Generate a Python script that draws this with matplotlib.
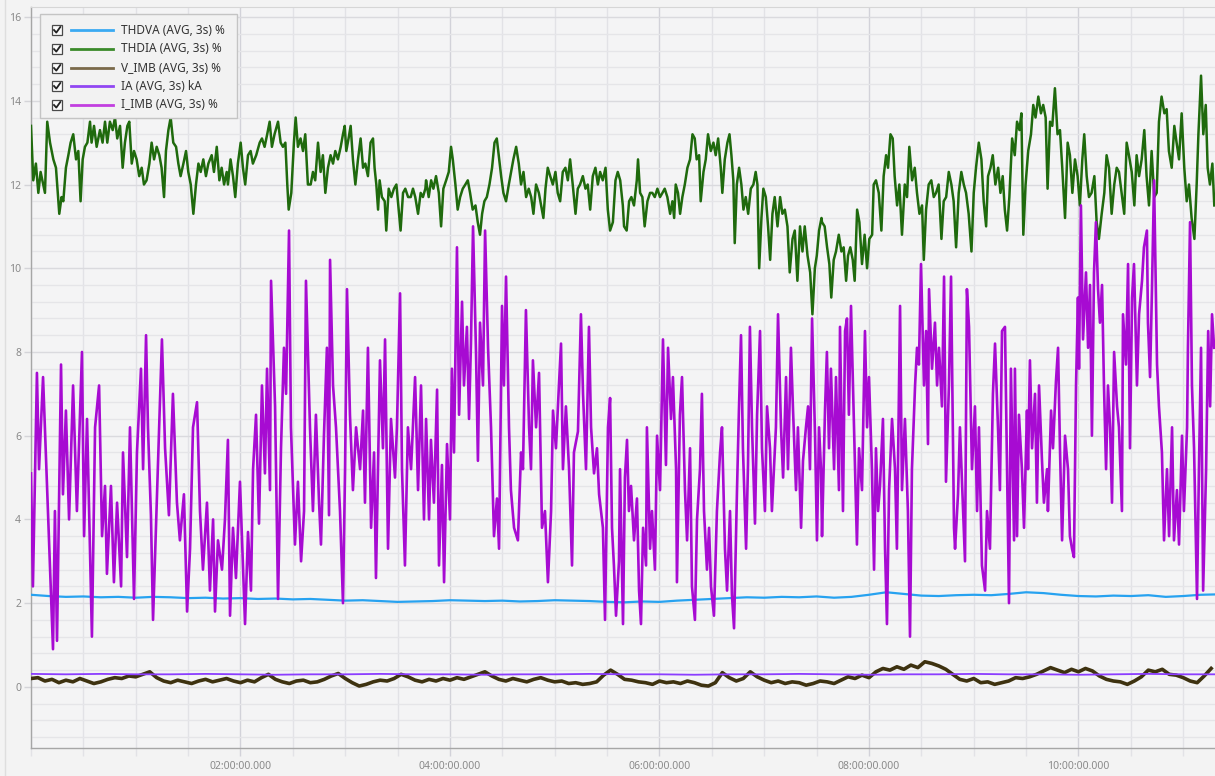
import numpy as np
import matplotlib
matplotlib.use("Agg")
import matplotlib.pyplot as plt
from matplotlib.lines import Line2D
from matplotlib.patches import Rectangle
from matplotlib.ticker import MultipleLocator, FixedLocator, FuncFormatter

plt.rcParams['font.family'] = ['Noto Sans', 'DejaVu Sans']

# ---------------------------------------------------------------- data
series_labels = ["THDVA (AVG, 3s) %", "THDIA (AVG, 3s) %", "V_IMB (AVG, 3s) %",
                 "IA (AVG, 3s) kA", "I_IMB (AVG, 3s) %"]
line_colors = ["#27a2f0", "#1f6a0d", "#3e3210", "#8b3dff", "#a70bd2"]
legend_colors = ["#3aaaf2", "#3a8a2a", "#7a6a4a", "#9147f2", "#c23fe0"]

# THDVA, one value every 10 minutes
thdva_step_min = 10
thdva_vals = [2.20, 2.17, 2.15, 2.16, 2.14, 2.15, 2.13, 2.15, 2.14, 2.12,
              2.13, 2.11, 2.12, 2.10, 2.11, 2.09, 2.10, 2.08, 2.06, 2.07,
              2.05, 2.03, 2.04, 2.05, 2.07, 2.06, 2.05, 2.06, 2.04, 2.05,
              2.07, 2.06, 2.05, 2.03, 2.02, 2.04, 2.03, 2.06, 2.08, 2.10,
              2.12, 2.14, 2.13, 2.15, 2.14, 2.16, 2.13, 2.15, 2.20, 2.26,
              2.22, 2.18, 2.17, 2.19, 2.20, 2.19, 2.22, 2.26, 2.24, 2.20,
              2.17, 2.16, 2.18, 2.17, 2.19, 2.15, 2.17, 2.20, 2.21]

# THDIA, (minute, value) turning points
thdia_pts = [
    (0.0, 13.4), (1.3, 12.1), (2.8, 12.5), (4.2, 11.8), (5.5, 12.3), (7.0, 12.0), (8.0, 11.8), (9.3, 13.5), (10.9, 13.0), (12.8, 12.6),
    (14.3, 12.4), (16.2, 11.3), (17.5, 11.7), (18.5, 11.6), (20.0, 12.4), (21.4, 12.7), (22.7, 13.0), (24.2, 13.2), (25.8, 12.6), (27.1, 12.8),
    (28.4, 11.6), (29.6, 12.6), (30.9, 12.9), (32.3, 13.0), (33.8, 13.5), (34.7, 13.0), (36.1, 13.4), (37.6, 12.9), (39.5, 13.3), (41.0, 13.0),
    (42.4, 13.5), (43.7, 13.0), (45.2, 13.5), (46.8, 13.3), (48.1, 13.6), (49.4, 13.1), (51.0, 13.4), (52.5, 12.4), (53.8, 13.0), (55.2, 13.4),
    (56.3, 13.5), (57.7, 12.5), (59.0, 12.8), (60.5, 12.6), (62.0, 12.2), (63.4, 12.4), (64.7, 12.0), (66.2, 12.1), (67.8, 12.5), (69.1, 13.0),
    (70.5, 12.6), (72.0, 12.9), (73.5, 12.7), (74.8, 12.4), (76.2, 11.7), (77.3, 12.8), (78.7, 13.3), (80.0, 13.6), (81.5, 13.0), (83.1, 12.9),
    (84.4, 12.5), (85.7, 12.2), (87.3, 12.5), (88.8, 12.8), (90.1, 12.3), (91.5, 12.0), (93.0, 11.3), (94.5, 12.0), (95.9, 12.5), (97.2, 12.3),
    (98.7, 12.6), (100.2, 12.2), (101.6, 12.5), (103.5, 12.7), (104.8, 12.3), (106.4, 12.9), (107.9, 12.1), (109.2, 12.4), (110.6, 12.0), (112.1, 12.3),
    (112.8, 12.0), (114.3, 12.6), (115.7, 12.2), (117.0, 11.7), (118.5, 12.5), (120.1, 13.0), (121.4, 12.4), (122.7, 12.0), (124.3, 12.7), (125.8, 12.8),
    (127.1, 12.5), (129.0, 12.7), (131.0, 13.0), (132.3, 13.1), (133.8, 12.9), (135.3, 13.2), (136.7, 13.5), (138.0, 12.9), (139.5, 13.2), (141.5, 13.5),
    (143.0, 13.0), (144.3, 12.9), (145.7, 13.0), (146.8, 12.0), (147.6, 11.4), (149.1, 11.8), (150.6, 13.0), (151.6, 13.6), (152.9, 12.9), (154.4, 13.1),
    (155.8, 12.8), (157.1, 13.2), (158.6, 12.0), (160.2, 12.0), (161.5, 12.3), (162.8, 12.1), (164.4, 13.0), (165.9, 12.3), (167.2, 12.7), (168.6, 11.8),
    (170.1, 12.4), (171.6, 12.7), (173.0, 12.5), (174.3, 12.8), (175.8, 12.6), (177.4, 12.9), (178.7, 13.2), (179.7, 13.4), (180.6, 12.8), (181.9, 13.1),
    (183.1, 13.4), (184.4, 12.6), (185.8, 12.0), (187.3, 12.6), (188.8, 13.1), (190.2, 12.4), (191.5, 12.5), (193.0, 12.2), (194.5, 13.0), (195.9, 13.1),
    (196.8, 12.4), (197.8, 12.0), (198.8, 11.4), (199.7, 12.1), (201.0, 11.7), (202.6, 11.6), (203.5, 10.9), (204.9, 11.9), (206.4, 11.7), (207.9, 11.9),
    (209.3, 12.0), (210.6, 11.4), (211.7, 10.9), (213.1, 11.8), (214.4, 11.9), (216.0, 11.7), (217.5, 11.7), (218.8, 11.9), (220.1, 11.7), (221.7, 11.3),
    (223.2, 11.8), (224.5, 11.7), (225.9, 11.9),
    (226.3, 12.1), (227.8, 11.7), (229.2, 12.1), (230.5, 11.9), (232.0, 12.2), (233.6, 11.8), (234.9, 11.0), (236.2, 11.9), (237.8, 12.1), (239.3, 12.3),
    (240.6, 12.9), (241.6, 12.6), (243.1, 12.0), (244.4, 11.4), (245.8, 11.7), (247.3, 11.9), (248.8, 12.0), (250.2, 12.1), (251.5, 11.8), (253.0, 11.4),
    (254.6, 11.5), (255.9, 11.1), (257.2, 10.8), (258.4, 11.3), (259.7, 11.6), (261.1, 11.7), (262.6, 12.0), (264.1, 12.4), (265.5, 13.0), (266.8, 13.1),
    (267.9, 12.7), (269.3, 12.2), (270.6, 11.8), (272.1, 11.6), (273.7, 12.0), (275.0, 12.3), (276.3, 12.6), (277.9, 12.9), (279.4, 12.5), (280.7, 12.0),
    (282.1, 12.3), (283.6, 11.7), (285.1, 11.9), (286.5, 11.7), (287.8, 11.3), (289.3, 12.0), (290.9, 11.8), (292.2, 11.5), (293.5, 11.2), (294.7, 11.9),
    (296.0, 12.4), (297.4, 12.2), (298.9, 12.0), (300.4, 12.3), (301.7, 11.8), (303.1, 11.6), (304.6, 12.3), (306.1, 12.4), (307.5, 12.1), (308.8, 12.6),
    (310.3, 12.0), (311.9, 11.3), (313.2, 11.9), (314.5, 12.0), (316.1, 12.2), (317.6, 11.9), (318.9, 12.0), (320.3, 11.4), (321.8, 12.2), (323.3, 12.4),
    (324.7, 12.0), (326.0, 12.3), (327.5, 12.1), (329.1, 12.4), (330.4, 11.4), (331.7, 10.9), (333.3, 11.1), (334.8, 12.1), (336.1, 12.3), (337.5, 12.1),
    (339.0, 11.5),
    (339.7, 11.0), (341.2, 10.9), (342.6, 11.6), (343.9, 11.7), (345.4, 11.5), (347.0, 12.1), (347.7, 12.6), (348.9, 11.8), (350.2, 11.7), (351.5, 11.0),
    (353.1, 11.6), (354.6, 11.8), (355.9, 11.8), (357.3, 11.7), (358.8, 11.9), (360.3, 11.7), (361.7, 11.8), (363.0, 11.9), (364.5, 11.7), (366.1, 11.3),
    (367.4, 11.6), (368.4, 11.2), (369.3, 12.0), (370.6, 11.8), (371.8, 11.3), (373.1, 11.7), (374.5, 12.0), (376.0, 12.4), (377.5, 12.6), (378.9, 13.2),
    (380.2, 13.1), (381.3, 12.6), (382.7, 12.7), (383.6, 11.6), (385.2, 12.3), (386.5, 12.6), (387.8, 13.2), (389.4, 12.8), (390.9, 13.0), (392.2, 12.7),
    (393.6, 13.1), (395.1, 12.4), (396.0, 11.8), (397.4, 12.6), (398.9, 13.0), (400.1, 13.2), (401.2, 12.7), (402.3, 12.1), (403.1, 10.6), (404.3, 12.0),
    (405.6, 12.4), (406.9, 12.0), (408.1, 11.4), (409.4, 11.7), (410.8, 11.3), (412.3, 11.9), (413.8, 12.0), (415.1, 12.3), (416.1, 12.0), (417.1, 10.0),
    (418.4, 11.2), (419.5, 11.9), (420.9, 11.7), (422.2, 11.0), (423.4, 10.2), (424.7, 11.3), (426.0, 11.7), (427.6, 11.0), (429.1, 11.7), (430.4, 11.3),
    (431.8, 11.4), (433.3, 11.0), (434.6, 9.9), (436.2, 10.7), (437.5, 10.9), (439.0, 9.7), (440.5, 11.0), (441.9, 10.4), (443.2, 11.0), (444.8, 10.3),
    (446.3, 9.9), (447.6, 8.9), (449.0, 10.0), (450.1, 10.3), (451.4, 10.9), (452.8, 11.2),
    (453.1, 11.1), (454.6, 11.0), (456.0, 10.5), (457.3, 10.1), (458.4, 9.3), (459.8, 10.2), (461.1, 10.4), (462.7, 10.8), (464.2, 10.4), (465.5, 10.5),
    (466.9, 9.7), (468.0, 10.3), (469.3, 10.5), (470.7, 10.2), (471.8, 9.7), (473.2, 11.4), (474.5, 11.1), (476.0, 10.1), (477.5, 10.8), (478.9, 10.0),
    (480.2, 10.7), (481.8, 10.8), (482.7, 12.0), (484.0, 12.1), (485.6, 11.8), (487.1, 10.9), (488.4, 12.2), (489.8, 12.7), (490.9, 12.4), (492.3, 13.2),
    (493.6, 13.1), (494.7, 12.2), (496.1, 11.5), (497.4, 12.0), (498.9, 10.8), (500.5, 12.0), (501.8, 11.7), (503.1, 12.9), (504.7, 12.1), (506.2, 12.4),
    (507.5, 11.8), (508.9, 11.3), (510.4, 11.5), (511.4, 10.2), (512.7, 11.4), (514.2, 12.0), (515.7, 12.1), (517.1, 11.7), (518.4, 11.8), (519.9, 12.0),
    (521.5, 10.7), (522.8, 11.6), (524.2, 11.7), (525.7, 12.3), (527.2, 12.0), (528.5, 11.6), (529.9, 10.5), (531.4, 11.8), (532.9, 12.3), (534.3, 12.0),
    (535.6, 11.8), (537.1, 11.3), (538.7, 10.4), (540.0, 11.8), (541.3, 12.4), (542.9, 13.0), (544.4, 12.6), (545.7, 11.6), (547.1, 11.0), (548.2, 12.2),
    (549.6, 12.4), (550.9, 12.7), (552.4, 12.0), (554.0, 12.4), (555.3, 11.8), (556.6, 12.2), (557.8, 11.4), (559.1, 10.9), (560.4, 11.7), (562.0, 13.1),
    (563.5, 12.7), (564.8, 13.5), (566.2, 13.3), (567.3, 13.7),
    (568.4, 10.8), (569.7, 12.0), (571.2, 12.8), (572.8, 13.2), (574.1, 13.9), (575.4, 13.6), (577.0, 14.1), (578.5, 13.7), (579.8, 13.9), (581.2, 13.6),
    (582.3, 11.9), (583.7, 13.5), (585.0, 13.4), (586.5, 14.3), (588.0, 13.2), (589.4, 13.3), (590.7, 12.4), (592.3, 11.2), (593.8, 13.0), (595.1, 12.7),
    (596.5, 11.8), (598.0, 12.6), (599.5, 12.2), (600.8, 11.5), (602.2, 12.6), (603.3, 13.2), (604.7, 12.2), (606.0, 11.7), (607.5, 11.8), (609.1, 12.2),
    (610.4, 11.1), (611.7, 10.7), (613.3, 11.3), (614.8, 11.8), (616.1, 12.7), (617.5, 12.4), (619.0, 11.3), (620.5, 12.0), (621.9, 12.4), (623.2, 12.3),
    (624.7, 11.8), (626.2, 11.3), (627.6, 13.0), (628.9, 12.7), (630.5, 12.3), (632.0, 11.5), (633.3, 12.7), (634.7, 12.2), (636.2, 12.6), (637.7, 13.3),
    (639.0, 12.2), (640.4, 11.5), (641.9, 12.8), (643.4, 11.7), (644.8, 11.8), (646.1, 13.5), (647.6, 14.1), (649.2, 13.7), (650.5, 13.8), (651.8, 12.8),
    (653.4, 12.4), (654.9, 13.4), (656.2, 13.0), (657.6, 12.6), (659.1, 13.7), (660.6, 12.4), (662.0, 11.6), (663.3, 12.0), (664.8, 11.2), (666.4, 10.7),
    (667.7, 12.0), (668.7, 13.2), (670.2, 14.6), (671.5, 13.2), (672.9, 13.9), (674.0, 12.4), (675.3, 12.0), (676.7, 12.5), (677.8, 11.5),
]

# V_IMB, one value every 4 minutes
v_imb_step_min = 4
v_imb_vals = [0.20, 0.22, 0.14, 0.18, 0.10, 0.16, 0.12, 0.20, 0.14, 0.08, 0.12, 0.18, 0.22, 0.20, 0.26,
              0.24, 0.30, 0.36, 0.22, 0.14, 0.10, 0.16, 0.12, 0.08, 0.14, 0.18, 0.12, 0.16, 0.20,
              0.14, 0.10, 0.16, 0.12, 0.22, 0.30, 0.18, 0.12, 0.08, 0.14, 0.16, 0.10, 0.12, 0.18,
              0.26, 0.32, 0.20, 0.10, 0.02, 0.06, 0.12, 0.16, 0.14, 0.20, 0.30, 0.24, 0.16, 0.12,
              0.18, 0.14, 0.20, 0.16, 0.22, 0.18, 0.24, 0.30, 0.36, 0.26, 0.18, 0.14, 0.20, 0.16, 0.12,
              0.18, 0.22, 0.16, 0.12, 0.14, 0.08, 0.10, 0.06, 0.08, 0.12, 0.28, 0.40, 0.30, 0.18,
              0.16, 0.12, 0.10, 0.06, 0.14, 0.10, 0.12, 0.08, 0.14, 0.10, 0.04, 0.02, 0.10, 0.34,
              0.22, 0.14, 0.20, 0.36, 0.24, 0.16, 0.10, 0.14, 0.08, 0.12, 0.10, 0.04, 0.08, 0.14,
              0.12, 0.08, 0.16, 0.24, 0.20, 0.28, 0.22, 0.36, 0.44, 0.40, 0.48, 0.42, 0.52, 0.46,
              0.60, 0.56, 0.50, 0.42, 0.30, 0.18, 0.14, 0.20, 0.10, 0.12, 0.06, 0.10, 0.14, 0.22,
              0.20, 0.24, 0.30, 0.38, 0.46, 0.40, 0.34, 0.42, 0.36, 0.44, 0.38, 0.26, 0.18, 0.14,
              0.12, 0.06, 0.14, 0.24, 0.40, 0.36, 0.42, 0.30, 0.28, 0.22, 0.14, 0.10, 0.26, 0.44]

# IA, one value every 20 minutes
ia_step_min = 20
ia_vals = [0.31, 0.30, 0.31, 0.30, 0.30, 0.31, 0.30, 0.29, 0.30, 0.30, 0.31, 0.30,
           0.30, 0.29, 0.30, 0.30, 0.31, 0.30, 0.30, 0.29, 0.30, 0.30, 0.31, 0.30,
           0.29, 0.30, 0.30, 0.31, 0.30, 0.30, 0.29, 0.30, 0.31, 0.30, 0.30]

# I_IMB, (minute, value) turning points
i_imb_pts = [
    (0.0, 5.1), (1.1, 2.4), (3.4, 7.5), (4.6, 5.2), (6.9, 7.4), (9.7, 4.2), (12.6, 0.9), (13.7, 4.2), (14.9, 1.1), (17.2, 7.7),
    (18.3, 4.6), (20.0, 6.6), (21.8, 4.0), (24.1, 7.2), (26.3, 4.2), (29.2, 8.0), (30.4, 3.6), (32.1, 6.4), (34.9, 1.2), (36.7, 6.2),
    (39.0, 7.2), (40.7, 3.6), (42.4, 4.8), (43.5, 2.7), (45.8, 4.8), (47.5, 2.5), (49.3, 4.4), (51.6, 2.4), (52.7, 5.6), (55.0, 3.1),
    (56.7, 6.2), (59.0, 2.1), (60.7, 5.6), (63.0, 7.6), (64.2, 5.2), (65.9, 8.4), (67.0, 6.2), (68.7, 4.1), (69.9, 1.6), (72.2, 4.6),
    (75.0, 8.3), (76.8, 5.7), (79.0, 4.1), (81.3, 7.0), (83.6, 4.4), (85.3, 3.5), (87.6, 4.6), (89.4, 1.8), (91.1, 3.3), (92.8, 6.2),
    (95.1, 6.8), (96.8, 4.2), (98.5, 2.8), (100.8, 4.4), (102.5, 2.3), (104.3, 4.0), (105.4, 1.8), (107.1, 3.5), (109.4, 2.8), (111.1, 4.0),
    (112.8, 5.9), (114.0, 1.7), (115.7, 3.8), (117.4, 2.6), (119.7, 4.9), (122.6, 1.5), (124.3, 3.7), (126.0, 2.3), (127.2, 5.2), (128.9, 6.5),
    (130.6, 3.9), (132.3, 7.2), (134.0, 5.1), (135.2, 7.6), (136.9, 4.7), (137.5, 9.7), (139.8, 6.7), (141.5, 2.1), (143.2, 5.7), (144.9, 8.1),
    (146.1, 7.0), (147.8, 10.9), (148.9, 6.2), (151.2, 3.4), (152.9, 4.9), (154.7, 3.0), (156.4, 4.2), (157.5, 9.7), (159.8, 6.2), (161.5, 4.2),
    (163.2, 6.5), (165.0, 4.4), (166.1, 3.4), (167.8, 6.0), (169.5, 8.1), (170.7, 4.1), (171.3, 10.2), (173.0, 7.2), (174.7, 6.2), (177.0, 4.2),
    (178.7, 2.0), (179.9, 5.2), (181.0, 9.5), (182.7, 6.5), (184.4, 4.7), (186.2, 6.2), (188.5, 5.2), (190.2, 6.6), (191.3, 4.4), (193.0, 8.1),
    (194.8, 3.8), (196.5, 5.6), (197.6, 2.6), (199.9, 7.8), (201.6, 5.7), (202.8, 8.3), (204.5, 3.3), (206.2, 6.4), (208.5, 5.0), (209.6, 6.2),
    (211.4, 9.4), (212.5, 5.2), (214.2, 2.9), (215.9, 6.2), (217.7, 5.2), (220.0, 7.4), (221.7, 4.7), (223.4, 7.2), (225.1, 4.0),
    (226.3, 6.4), (228.0, 4.0), (229.1, 5.9), (230.8, 4.4), (232.6, 7.1), (233.7, 2.9), (235.4, 5.3), (236.6, 2.5), (238.3, 5.8), (240.0, 4.0),
    (241.1, 7.6), (242.3, 5.6), (244.0, 10.5), (245.2, 6.5), (246.9, 9.2), (248.0, 7.2), (249.7, 8.6), (250.9, 6.4), (252.0, 8.2), (253.2, 11.0),
    (254.9, 8.0), (256.0, 5.4), (257.2, 8.7), (258.9, 7.2), (260.1, 10.9), (261.8, 8.1), (263.5, 6.2), (265.2, 3.6), (266.9, 4.5), (268.1, 3.3),
    (269.8, 9.1), (270.9, 7.2), (272.1, 9.8), (273.8, 6.2), (274.9, 4.7), (276.7, 3.8), (278.9, 3.5), (280.7, 5.6), (281.8, 5.2), (283.5, 9.0),
    (285.3, 6.2), (286.4, 5.2), (287.5, 7.8), (289.3, 6.2), (291.0, 7.5), (292.7, 3.8), (294.4, 4.2), (296.1, 2.5), (297.9, 4.2), (299.0, 6.6),
    (300.7, 5.7), (302.4, 7.2), (303.6, 8.2), (304.7, 5.2), (306.4, 6.7), (308.2, 5.2), (309.9, 2.9), (311.0, 5.6), (313.3, 6.1), (315.0, 8.9),
    (316.2, 7.0), (317.9, 5.2), (319.6, 8.6), (320.8, 6.2), (322.5, 5.1), (324.2, 5.7), (325.4, 4.6), (327.6, 3.8), (328.8, 1.6), (330.5, 6.2),
    (331.7, 6.9), (332.8, 3.8), (333.9, 2.9), (335.1, 1.7), (336.8, 3.0), (337.4, 5.2), (339.1, 1.5), (340.2, 5.0),
    (341.4, 5.9), (342.5, 4.2), (343.7, 4.8), (345.4, 3.5), (347.1, 4.5), (348.3, 2.3), (349.4, 1.5), (350.6, 3.8), (352.3, 2.9), (352.8, 6.2),
    (354.6, 3.3), (355.7, 4.2), (357.4, 2.8), (358.6, 6.0), (360.3, 4.7), (362.0, 8.3), (363.7, 5.3), (364.9, 8.1), (366.6, 6.4), (367.7, 7.4),
    (369.5, 5.2), (370.0, 2.5), (371.7, 6.5), (372.9, 7.4), (374.6, 4.7), (375.8, 3.5), (377.5, 5.7), (378.6, 2.4), (380.3, 1.6), (381.5, 4.0),
    (383.2, 5.2), (384.3, 7.0), (385.5, 4.2), (387.2, 2.8), (388.4, 3.8), (389.5, 2.4), (391.2, 1.7), (392.9, 4.2), (394.7, 5.6), (395.8, 6.2),
    (397.5, 3.3), (398.7, 2.3), (400.4, 4.2), (401.5, 2.2), (402.7, 1.4), (404.4, 4.7), (405.5, 6.6), (406.7, 8.4), (407.8, 5.7), (409.6, 3.3),
    (410.7, 5.3), (411.8, 8.6), (413.0, 6.2), (414.7, 3.9), (415.9, 6.5), (417.6, 8.5), (418.7, 5.7), (420.4, 4.2), (421.6, 6.7), (423.3, 5.7),
    (424.4, 4.2), (426.7, 6.2), (427.9, 8.9), (429.6, 6.2), (430.8, 5.0), (432.5, 7.4), (433.6, 5.2), (435.3, 8.1), (436.5, 6.6), (438.2, 4.7),
    (439.3, 6.2), (441.1, 3.8), (442.2, 5.4), (443.9, 6.2), (445.1, 6.7), (446.2, 5.2), (447.4, 8.8), (449.1, 6.0), (450.2, 3.5), (451.4, 6.2),
    (452.5, 5.2),
    (453.1, 3.6), (454.8, 6.6), (455.9, 8.0), (457.1, 5.7), (458.2, 7.6), (460.0, 5.2), (461.1, 7.4), (462.8, 4.7), (463.4, 8.6), (465.1, 4.2),
    (466.3, 8.5), (467.4, 8.8), (468.5, 6.5), (469.7, 9.1), (471.4, 6.2), (473.1, 3.4), (474.3, 5.7), (476.0, 4.7), (477.7, 8.5), (478.9, 6.2),
    (480.0, 7.4), (481.7, 5.2), (482.9, 2.8), (484.0, 5.7), (485.2, 4.2), (486.3, 4.8), (488.0, 6.4), (489.2, 3.3), (490.3, 1.5), (491.5, 4.7),
    (493.2, 6.4), (494.9, 5.2), (496.0, 3.3), (497.8, 9.1), (498.9, 4.7), (500.6, 6.4), (502.3, 4.2), (503.5, 1.2), (504.6, 5.2), (506.4, 7.2),
    (507.5, 8.1), (508.6, 7.7), (509.8, 10.1), (511.5, 7.2), (512.7, 8.5), (513.8, 5.8), (514.4, 9.5), (516.1, 7.6), (517.8, 8.7), (519.0, 7.2),
    (520.1, 8.1), (521.8, 6.7), (523.0, 9.8), (524.1, 4.9), (525.8, 7.2), (527.0, 9.8), (528.7, 3.8), (529.3, 3.3), (531.0, 4.6), (532.1, 6.2),
    (533.9, 4.2), (535.0, 3.0), (536.1, 9.5), (537.3, 8.6), (539.0, 5.2), (540.7, 6.7), (541.9, 4.2), (543.0, 6.2), (544.7, 2.9), (546.5, 2.3),
    (547.6, 4.2), (549.3, 3.3), (551.0, 7.0), (552.2, 8.2), (553.9, 6.2), (555.0, 4.7), (556.2, 8.5), (557.9, 8.6), (559.1, 5.2), (560.2, 2.0),
    (561.3, 7.6), (563.1, 3.5),
    (563.6, 7.6), (564.8, 3.6), (565.9, 6.5), (567.6, 5.2), (568.8, 3.8), (570.5, 6.6), (571.1, 5.2), (572.2, 7.8), (573.4, 5.7), (575.1, 7.0),
    (576.2, 4.4), (577.4, 7.2), (579.1, 5.4), (580.2, 4.4), (582.0, 5.2), (582.5, 4.2), (584.3, 6.6), (585.4, 5.7), (587.1, 7.3), (588.3, 8.1),
    (589.4, 5.7), (590.6, 3.5), (592.3, 6.0), (594.0, 5.2), (595.1, 3.6), (596.3, 3.3), (597.4, 3.1), (598.6, 7.2), (599.7, 9.3), (600.3, 7.6),
    (601.4, 11.5), (602.6, 8.3), (604.3, 9.9), (605.5, 8.1), (606.6, 9.6), (607.7, 6.0), (608.9, 9.9), (610.0, 11.1), (611.2, 9.5), (612.3, 8.7),
    (613.5, 9.6), (614.6, 7.2), (615.8, 5.2), (616.9, 7.2), (618.1, 6.2), (619.2, 4.4), (620.4, 8.0), (622.1, 6.7), (623.2, 6.2), (624.9, 4.2),
    (625.5, 8.9), (627.2, 7.7), (628.4, 10.1), (629.5, 5.7), (630.7, 9.3), (631.8, 10.1), (633.5, 7.2), (634.7, 8.9), (636.4, 9.7), (637.5, 10.5),
    (639.2, 10.9), (639.8, 8.7), (641.0, 7.4), (642.1, 9.5), (643.3, 12.1), (645.0, 7.7), (646.1, 6.7), (647.8, 5.6), (649.0, 3.5), (650.7, 5.2),
    (651.9, 3.6), (653.6, 6.2), (654.7, 3.5), (656.4, 4.7), (657.6, 3.4), (659.3, 6.0), (660.4, 4.2), (662.2, 6.2), (662.7, 8.1), (663.9, 11.1),
    (665.0, 7.2), (666.2, 5.7), (667.9, 2.1), (669.0, 5.2), (670.2, 8.1), (671.4, 2.3), (673.1, 5.2), (674.3, 8.5), (675.4, 6.7), (676.5, 8.9),
    (677.7, 8.1),
]

major_hours = [2, 4, 6, 8, 10]
x_range_min = (0, 678.2)
y_range = (-1.46, 16.24)

# ---------------------------------------------------------------- figure
W, H = 1215, 776
fig = plt.figure(figsize=(W / 100, H / 100), dpi=100, facecolor="#f3f3f3")


def fx(px):
    return px / W


def fy(py):
    return 1 - py / H


ax = fig.add_axes([fx(31), fy(748), fx(1215) - fx(31), fy(7) - fy(748)])
ax.set_facecolor("#f4f4f5")
ax.set_xlim(*x_range_min)
ax.set_ylim(*y_range)

# grid and ticks
ax.xaxis.set_major_locator(FixedLocator([h * 60 for h in major_hours]))
ax.xaxis.set_minor_locator(MultipleLocator(30))
ax.yaxis.set_major_locator(MultipleLocator(2))
ax.yaxis.set_minor_locator(MultipleLocator(0.4))
ax.xaxis.set_major_formatter(
    FuncFormatter(lambda m, _: f"{int(m // 60):02d}:{int(m % 60):02d}:00.000"))
ax.yaxis.set_major_formatter(FuncFormatter(lambda v, _: f"{v:g}"))

ax.grid(which="major", axis="x", color="#d2d2d9", lw=1.0)
ax.grid(which="minor", axis="x", color="#e2e2e6", lw=1.0)
ax.grid(which="major", axis="y", color="#dadade", lw=1.0)
ax.grid(which="minor", axis="y", color="#e5e5e8", lw=1.0)
ax.set_axisbelow(True)

ax.tick_params(axis="x", which="major", direction="out", length=5.5, width=1,
               color="#d2d2d9", labelsize=7.5, labelcolor="#8a8a8a", pad=4)
ax.tick_params(axis="x", which="minor", direction="out", length=5.5, width=1,
               color="#e2e2e6")
ax.tick_params(axis="y", which="major", direction="out", length=5, width=1,
               color="#d4d4d8", labelsize=7.5, labelcolor="#8a8a8a", pad=2)
ax.tick_params(axis="y", which="minor", length=0)

for side in ("left", "bottom"):
    ax.spines[side].set_color("#a6a6a6")
    ax.spines[side].set_linewidth(1.0)
ax.spines["top"].set_color("#d6d6d6")
ax.spines["right"].set_visible(False)

# ---------------------------------------------------------------- series
thdva_t = np.arange(len(thdva_vals)) * thdva_step_min
v_imb_t = np.arange(len(v_imb_vals)) * v_imb_step_min
ia_t = np.arange(len(ia_vals)) * ia_step_min
thdia_t, thdia_v = zip(*thdia_pts)
i_imb_t, i_imb_v = zip(*i_imb_pts)

ax.plot(thdva_t, thdva_vals, color=line_colors[0], lw=1.6, zorder=3)
ax.plot(thdia_t, thdia_v, color=line_colors[1], lw=1.8, zorder=3)
ax.plot(v_imb_t, v_imb_vals, color=line_colors[2], lw=2.6, zorder=4)
ax.plot(ia_t, ia_vals, color=line_colors[3], lw=1.3, zorder=5)
ax.plot(i_imb_t, i_imb_v, color=line_colors[4], lw=1.9, zorder=6)

# thin outer frame line on the left
fig.add_artist(Line2D([fx(5), fx(5)], [0, 1], color="#dedede", lw=1,
                      transform=fig.transFigure))

# ---------------------------------------------------------------- legend
tf = fig.transFigure
fig.add_artist(Rectangle((fx(40), fy(118)), fx(237) - fx(40), (118 - 14) / H,
                         transform=tf, facecolor="#f2f2f2", edgecolor="#c4c4c4",
                         lw=1, zorder=10))
row_y = [30, 49, 68, 86, 105]
for label, col, ry in zip(series_labels, legend_colors, row_y):
    fig.add_artist(Rectangle((fx(52), fy(ry + 5)), 10 / W, 10 / H, transform=tf,
                             facecolor="#fbfbfb", edgecolor="#4a4a4a", lw=0.9,
                             zorder=11))
    fig.add_artist(Line2D([fx(54), fx(56.3), fx(60.3)],
                          [fy(ry), fy(ry + 2.6), fy(ry - 3)],
                          color="#222222", lw=1.3, transform=tf, zorder=12))
    fig.add_artist(Line2D([fx(71), fx(113)], [fy(ry), fy(ry)], color=col,
                          lw=2.0, transform=tf, zorder=11))
    fig.text(fx(121), fy(ry), label, fontsize=8.5, color="#333333",
             va="center", ha="left", zorder=12)

fig.savefig("out.png", dpi=100, facecolor=fig.get_facecolor())
